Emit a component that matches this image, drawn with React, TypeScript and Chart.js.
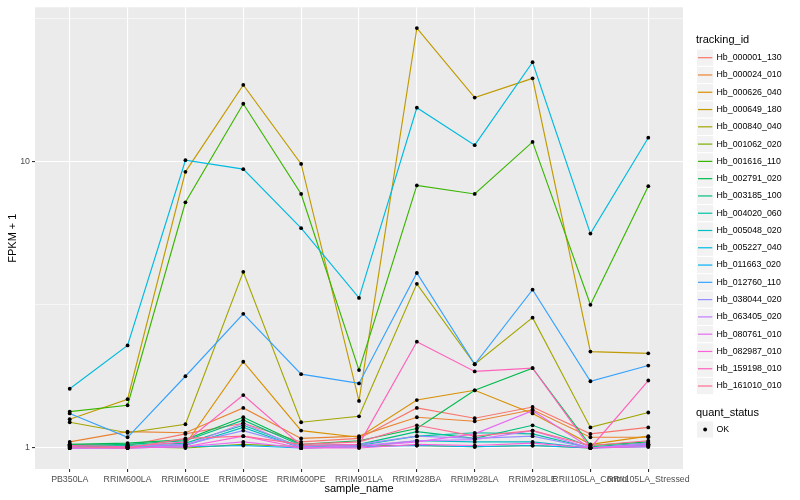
import React, { useEffect, useRef } from "react";
import { Chart, registerables } from "chart.js";

Chart.register(...registerables);

const FONT = '"Liberation Sans", Arial, Helvetica, sans-serif';

const samples = [
  "PB350LA",
  "RRIM600LA",
  "RRIM600LE",
  "RRIM600SE",
  "RRIM600PE",
  "RRIM901LA",
  "RRIM928BA",
  "RRIM928LA",
  "RRIM928LE",
  "RRII105LA_Control",
  "RRII105LA_Stressed",
];

const trackingIds = [
  "Hb_000001_130",
  "Hb_000024_010",
  "Hb_000626_040",
  "Hb_000649_180",
  "Hb_000840_040",
  "Hb_001062_020",
  "Hb_001616_110",
  "Hb_002791_020",
  "Hb_003185_100",
  "Hb_004020_060",
  "Hb_005048_020",
  "Hb_005227_040",
  "Hb_011663_020",
  "Hb_012760_110",
  "Hb_038044_020",
  "Hb_063405_020",
  "Hb_080761_010",
  "Hb_082987_010",
  "Hb_159198_010",
  "Hb_161010_010",
];

const seriesColors = [
  "#F8766D", "#EA8331", "#D89000", "#C09B00", "#A3A500",
  "#7CAE00", "#39B600", "#00BB4E", "#00BF7D", "#00C1A3",
  "#00BFC4", "#00BAE0", "#00B0F6", "#35A2FF", "#9590FF",
  "#C77CFF", "#E76BF3", "#FA62DB", "#FF62BC", "#FF6C91",
];

// FPKM + 1 per sample (same order as `samples`)
const hb000001_130 = [1.03, 1.02, 1.12, 1.22, 1.05, 1.08, 1.38, 1.27, 1.39, 1.12, 1.18];
const hb000024_010 = [1.05, 1.14, 1.13, 1.38, 1.08, 1.1, 1.28, 1.24, 1.36, 1.09, 1.09];
const hb000626_040 = [1.02, 1.0, 1.03, 2.0, 1.15, 1.09, 1.47, 1.59, 1.32, 1.03, 1.1];
const hb000649_180 = [1.26, 1.48, 9.2, 18.5, 9.8, 1.46, 29.2, 16.7, 19.5, 2.17, 2.14];
const hb000840_040 = [1.23, 1.13, 1.21, 4.12, 1.23, 1.29, 3.74, 1.96, 2.85, 1.18, 1.33];
const hb001062_020 = [1.01, 1.01, 1.0, 1.03, 1.01, 1.02, 1.02, 1.01, 1.02, 1.0, 1.03];
const hb001616_110 = [1.34, 1.41, 7.2, 15.9, 7.7, 1.87, 8.25, 7.7, 11.7, 3.16, 8.2];
const hb002791_020 = [1.03, 1.04, 1.07, 1.28, 1.03, 1.06, 1.17, 1.59, 1.9, 1.02, 1.05];
const hb003185_100 = [1.02, 1.03, 1.06, 1.25, 1.02, 1.03, 1.14, 1.08, 1.2, 1.01, 1.04];
const hb004020_060 = [1.01, 1.02, 1.04, 1.2, 1.01, 1.02, 1.1, 1.13, 1.12, 1.0, 1.03];
const hb005048_020 = [1.0, 1.01, 1.02, 1.18, 1.0, 1.01, 1.06, 1.05, 1.05, 1.0, 1.02];
const hb005227_040 = [1.61, 2.28, 10.1, 9.4, 5.85, 3.34, 15.4, 11.4, 22.2, 5.6, 12.1];
const hb011663_020 = [1.0, 1.0, 1.01, 1.02, 1.0, 1.01, 1.02, 1.01, 1.02, 1.0, 1.01];
const hb012760_110 = [1.32, 1.09, 1.78, 2.94, 1.81, 1.68, 4.08, 1.96, 3.57, 1.71, 1.94];
const hb038044_020 = [1.0, 1.01, 1.03, 1.15, 1.01, 1.03, 1.1, 1.08, 1.1, 1.0, 1.03];
const hb063405_020 = [1.01, 1.0, 1.02, 1.22, 1.0, 1.02, 1.06, 1.07, 1.15, 1.0, 1.04];
const hb080761_010 = [1.0, 1.0, 1.01, 1.05, 1.0, 1.01, 1.05, 1.12, 1.35, 1.0, 1.02];
const hb082987_010 = [1.0, 1.0, 1.01, 1.1, 1.0, 1.0, 1.03, 1.02, 1.04, 1.0, 1.01];
const hb159198_010 = [1.02, 1.01, 1.05, 1.53, 1.02, 1.03, 2.35, 1.85, 1.9, 1.0, 1.72];
const hb161010_010 = [1.01, 1.0, 1.08, 1.1, 1.03, 1.05, 1.2, 1.1, 1.15, 1.02, 1.06];

const seriesValues = [
  hb000001_130, hb000024_010, hb000626_040, hb000649_180, hb000840_040,
  hb001062_020, hb001616_110, hb002791_020, hb003185_100, hb004020_060,
  hb005048_020, hb005227_040, hb011663_020, hb012760_110, hb038044_020,
  hb063405_020, hb080761_010, hb082987_010, hb159198_010, hb161010_010,
];

const yMajorTicks = [1, 10];
const yMinorTicks = [Math.sqrt(10), Math.pow(10, 1.5)];
const Y_MIN = Math.pow(10, -0.0733);
const Y_MAX = Math.pow(10, 1.538);

const panelBg = {
  id: "panelBg",
  beforeDraw(chart: any) {
    const { ctx, chartArea } = chart;
    ctx.save();
    ctx.fillStyle = "#EBEBEB";
    ctx.fillRect(chartArea.left, chartArea.top, chartArea.right - chartArea.left, chartArea.bottom - chartArea.top);
    ctx.restore();
  },
};

const ggLegend = {
  id: "ggLegend",
  afterDraw(chart: any) {
    const ctx = chart.ctx;
    const kx = 696.5;
    const ks = 17.28;
    ctx.save();
    ctx.textAlign = "left";
    ctx.textBaseline = "middle";
    ctx.fillStyle = "#000000";
    ctx.font = `11px ${FONT}`;
    ctx.fillText("tracking_id", 696, 40);
    trackingIds.forEach((id, i) => {
      const cy = 57.7 + i * ks;
      ctx.fillStyle = "#F2F2F2";
      ctx.fillRect(kx, cy - ks / 2, ks, ks);
      ctx.strokeStyle = "#FFFFFF";
      ctx.lineWidth = 1;
      ctx.strokeRect(kx, cy - ks / 2, ks, ks);
      ctx.strokeStyle = seriesColors[i];
      ctx.lineWidth = 1.2;
      ctx.beginPath();
      ctx.moveTo(kx + 1.5, cy);
      ctx.lineTo(kx + ks - 1.5, cy);
      ctx.stroke();
      ctx.fillStyle = "#000000";
      ctx.font = `8.8px ${FONT}`;
      ctx.fillText(id, 716.5, cy);
    });
    ctx.font = `11px ${FONT}`;
    ctx.fillText("quant_status", 696, 412.5);
    const cy = 429.5;
    ctx.fillStyle = "#F2F2F2";
    ctx.fillRect(kx, cy - ks / 2, ks, ks);
    ctx.strokeStyle = "#FFFFFF";
    ctx.strokeRect(kx, cy - ks / 2, ks, ks);
    ctx.fillStyle = "#000000";
    ctx.beginPath();
    ctx.arc(kx + ks / 2, cy, 1.9, 0, Math.PI * 2);
    ctx.fill();
    ctx.font = `8.8px ${FONT}`;
    ctx.fillText("OK", 716.5, cy);
    ctx.restore();
  },
};

export default function App() {
  const ref = useRef<HTMLCanvasElement | null>(null);

  useEffect(() => {
    if (!ref.current) return;
    const n = seriesValues.length;
    const lineSets = seriesValues.map((vals, i) => ({
      type: "line" as const,
      label: trackingIds[i],
      data: vals.map((v, j) => ({ x: j, y: v })),
      borderColor: seriesColors[i],
      backgroundColor: seriesColors[i],
      borderWidth: 1.15,
      pointRadius: 0,
      tension: 0,
      fill: false,
      order: n - i,
    }));
    const pointSet = {
      type: "scatter" as const,
      label: "OK",
      data: seriesValues.flatMap((vals) => vals.map((v, j) => ({ x: j, y: v }))),
      backgroundColor: "#000000",
      borderColor: "#000000",
      borderWidth: 0,
      pointRadius: 1.9,
      showLine: false,
      order: -1,
    };

    const chart = new Chart(ref.current, {
      type: "line",
      data: { datasets: [...lineSets, pointSet] as any },
      plugins: [panelBg, ggLegend],
      options: {
        animation: false,
        responsive: false,
        maintainAspectRatio: false,
        events: [],
        layout: { padding: { left: 0, right: 117, top: 5, bottom: 0 } },
        plugins: {
          legend: { display: false },
          tooltip: { enabled: false },
        },
        scales: {
          x: {
            type: "linear",
            min: -0.6,
            max: 10.6,
            afterBuildTicks: (s: any) => {
              s.ticks = samples.map((_, i) => ({ value: i }));
            },
            afterFit: (s: any) => {
              s.height = 31;
            },
            ticks: {
              callback: (v: any) => samples[v as number] ?? "",
              autoSkip: false,
              maxRotation: 0,
              minRotation: 0,
              padding: 2,
              color: "#4D4D4D",
              font: { size: 8.8, family: FONT },
            },
            grid: {
              color: "#FFFFFF",
              lineWidth: 1.1,
              tickColor: "#333333",
              tickLength: 3,
              drawTicks: true,
            },
            border: { display: false },
            title: {
              display: true,
              text: "sample_name",
              color: "#000000",
              font: { size: 11, family: FONT },
              padding: { top: 0, bottom: 4 },
            },
          },
          y: {
            type: "logarithmic",
            min: Y_MIN,
            max: Y_MAX,
            afterBuildTicks: (s: any) => {
              s.ticks = [...yMajorTicks, ...yMinorTicks]
                .sort((a, b) => a - b)
                .map((v) => ({ value: v, major: yMajorTicks.includes(v) }));
            },
            afterFit: (s: any) => {
              s.width = 35;
            },
            ticks: {
              callback: (v: any) => (yMajorTicks.includes(v) ? String(v) : ""),
              autoSkip: false,
              padding: 2,
              color: "#4D4D4D",
              font: { size: 8.8, family: FONT },
            },
            grid: {
              color: "#FFFFFF",
              lineWidth: (ctx: any) => (ctx.tick && yMajorTicks.includes(ctx.tick.value) ? 1.1 : 0.55),
              tickColor: (ctx: any) =>
                ctx.tick && yMajorTicks.includes(ctx.tick.value) ? "#333333" : "rgba(0,0,0,0)",
              tickLength: 3,
              drawTicks: true,
            },
            border: { display: false },
            title: {
              display: true,
              text: "FPKM + 1",
              color: "#000000",
              font: { size: 11, family: FONT },
              padding: { top: 6, bottom: 0 },
            },
          },
        },
      } as any,
    });
    return () => chart.destroy();
  }, []);

  return (
    <div style={{ position: "fixed", left: 0, top: 0, width: 800, height: 500, background: "#FFFFFF" }}>
      <canvas ref={ref} width={800} height={500} style={{ width: 800, height: 500, display: "block" }} />
    </div>
  );
}
